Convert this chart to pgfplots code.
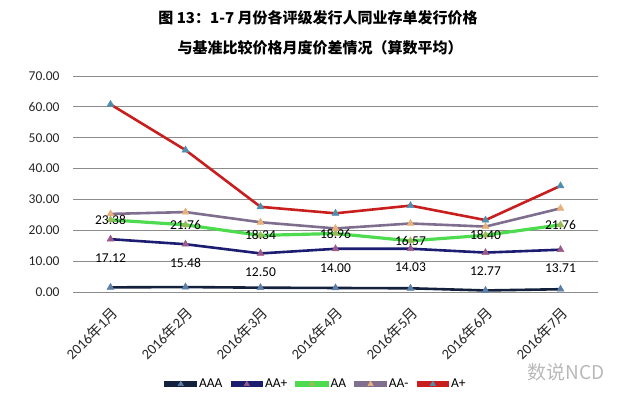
\documentclass[border=0pt]{standalone}
\usepackage{pgfplots}
\pgfplotsset{compat=1.18}
\usepackage{fontspec}
\setmainfont{Carlito}
\newfontfamily\cjk{Noto Sans CJK SC}
\definecolor{cAAA}{HTML}{14213D}
\definecolor{mAAA}{HTML}{5B7FA6}
\definecolor{cAAp}{HTML}{1C1C70}
\definecolor{mAAp}{HTML}{9A5A8A}
\definecolor{cAA}{HTML}{4FDB4F}
\definecolor{mAA}{HTML}{9BBB59}
\definecolor{cAAm}{HTML}{7F6E8E}
\definecolor{mAAm}{HTML}{E8B07A}
\definecolor{cAp}{HTML}{C81E1E}
\definecolor{mAp}{HTML}{4F8FAE}
\definecolor{gridc}{HTML}{8C8C8C}
\newcommand\ym[1]{2016{\cjk 年}#1{\cjk 月}}

\begin{document}
\begin{tikzpicture}
\useasboundingbox (0,0) rectangle (635pt,406pt);
\node[font=\cjk\bfseries\fontsize{15}{18}\selectfont] at (318pt,388pt) {图 13：1-7 月份各评级发行人同业存单发行价格};
\node[font=\cjk\bfseries\fontsize{15}{18}\selectfont] at (320pt,358pt) {与基准比较价格月度价差情况（算数平均）};
\node[font=\cjk\fontsize{19}{22}\selectfont, text=gray!55] at (566pt,34pt) {数说NCD};

\begin{axis}[
    at={(73pt,114pt)}, anchor=south west,
    scale only axis,
    width=525pt, height=216pt,
    xmin=-0.5, xmax=6.5,
    ymin=0, ymax=70,
    ytick={0,10,...,70},
    xtick={0,...,6},
    xticklabels={\ym{1},\ym{2},\ym{3},\ym{4},\ym{5},\ym{6},\ym{7}},
    axis line style={draw=none},
    tick style={draw=none},
    ymajorgrids=true,
    grid style={gridc, line width=0.9pt},
    tick label style={font=\fontsize{13.5}{16}\selectfont, text=black!85},
    yticklabel style={xshift=-10pt, /pgf/number format/.cd, fixed, fixed zerofill, precision=2, assume math mode=true},
    xticklabel style={xshift=7pt, yshift=-16pt, rotate=45, anchor=east, font=\fontsize{14.5}{16}\selectfont},
    legend columns=5,
    legend style={draw=none, at={(0.463,-0.426)}, anchor=center,
        font=\fontsize{13.5}{15}\selectfont,
        /tikz/every even column/.append style={column sep=6pt}},
    legend image code/.code={
        \fill (0pt,-1.6pt) rectangle (30pt,1.6pt);
        \draw[mark size=3pt, mark repeat=2, mark phase=2] plot coordinates {(0pt,0pt)(15pt,0pt)(30pt,0pt)};},
    every axis plot/.append style={line width=2.6pt, mark=triangle*, mark size=4pt},
    nodes near coords style={font=\fontsize{13.5}{16}\selectfont, text=black},
]

\addplot[cAAA, mark options={fill=mAAA, draw=mAAA, line width=0.5pt}]
    coordinates {(0,1.5)(1,1.6)(2,1.4)(3,1.3)(4,1.2)(5,0.5)(6,0.9)};
\addlegendentry{AAA}

\addplot[cAAp, mark options={fill=mAAp, draw=mAAp, line width=0.5pt},
    nodes near coords={\pgfmathprintnumber[fixed,fixed zerofill,precision=2,assume math mode=true]{\pgfplotspointmeta}},
    every node near coord/.append style={anchor=north, yshift=-11pt, line width=0.4pt}]
    coordinates {(0,17.12)(1,15.48)(2,12.50)(3,14.00)(4,14.03)(5,12.77)(6,13.71)};
\addlegendentry{AA+}

\addplot[cAA, line width=3.2pt, mark options={fill=mAA, draw=mAA, line width=0.5pt},
    nodes near coords={\pgfmathprintnumber[fixed,fixed zerofill,precision=2,assume math mode=true]{\pgfplotspointmeta}},
    every node near coord/.append style={anchor=center, line width=0.4pt}]
    coordinates {(0,23.38)(1,21.76)(2,18.34)(3,18.96)(4,16.57)(5,18.40)(6,21.76)};
\addlegendentry{AA}

\addplot[cAAm, mark options={fill=mAAm, draw=mAAm, line width=0.5pt}]
    coordinates {(0,25.3)(1,25.9)(2,22.6)(3,20.6)(4,22.2)(5,21.2)(6,27.1)};
\addlegendentry{AA-}

\addplot[cAp, mark options={fill=mAp, draw=mAp, line width=0.5pt}]
    coordinates {(0,60.8)(1,46.0)(2,27.6)(3,25.5)(4,28.0)(5,23.3)(6,34.4)};
\addlegendentry{A+}

\end{axis}
\end{tikzpicture}
\end{document}
